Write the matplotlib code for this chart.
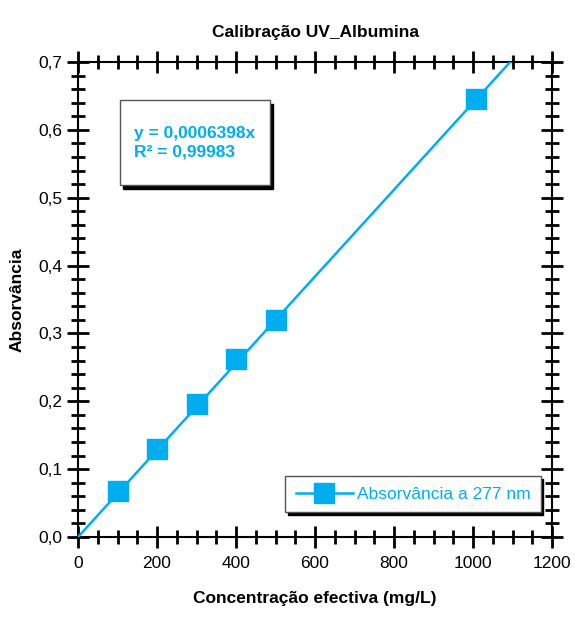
import numpy as np
import matplotlib
matplotlib.use("Agg")
import matplotlib.pyplot as plt
from matplotlib.patches import Rectangle
from matplotlib.ticker import MultipleLocator, FuncFormatter

plt.rcParams['font.family'] = ['Liberation Sans', 'DejaVu Sans']

# dados de calibração
conc = [100, 200, 300, 400, 500, 1008]
absorv = [0.068, 0.129, 0.196, 0.262, 0.320, 0.646]
slope = 0.0006398
r2 = 0.99983
blue = '#00AEEF'

fig = plt.figure(figsize=(5.75, 6.17), dpi=100)
ax = fig.add_axes([0.1357, 0.1297, 0.8243, 0.7698])

# linha de tendência até o topo do gráfico
x_fit = np.array([0, 0.7 / slope])
ax.plot(x_fit, slope * x_fit, color=blue, lw=1.8, zorder=3)
ax.plot(conc, absorv, 's', color=blue, ms=14, zorder=4)
# legenda mostra linha + marcador
handle = plt.Line2D([], [], color=blue, lw=1.8, marker='s', ms=14)

ax.set_xlim(0, 1200)
ax.set_ylim(0, 0.7)
ax.xaxis.set_major_locator(MultipleLocator(200))
ax.xaxis.set_minor_locator(MultipleLocator(50))
ax.yaxis.set_major_locator(MultipleLocator(0.1))
ax.yaxis.set_minor_locator(MultipleLocator(0.02))
ax.yaxis.set_major_formatter(FuncFormatter(lambda v, p: f'{v:.1f}'.replace('.', ',')))

ax.tick_params(which='both', direction='inout', top=True, right=True,
               width=2, labelsize=12.5)
ax.tick_params(axis='x', pad=6)
ax.tick_params(axis='y', pad=3)
ax.tick_params(which='major', length=16)
ax.tick_params(which='minor', length=10)
for s in ax.spines.values():
    s.set_linewidth(1.5)

ax.set_title('Calibração UV_Albumina', fontsize=12.5, fontweight='bold', pad=18)
ax.set_xlabel('Concentração efectiva (mg/L)', fontsize=12.5, fontweight='bold', labelpad=14)
ax.set_ylabel('Absorvância', fontsize=12.5, fontweight='bold', labelpad=10)

# caixa com a equação
ax.add_patch(Rectangle((0.095, 0.733), 0.317, 0.179, transform=ax.transAxes,
                       facecolor='black', edgecolor='black', lw=1, zorder=5))
ax.add_patch(Rectangle((0.0886, 0.741), 0.317, 0.179, transform=ax.transAxes,
                       facecolor='white', edgecolor='#555555', lw=1, zorder=6))
ax.text(0.118, 0.865, 'y = 0,0006398x\nR² = ' + f'{r2:.5f}'.replace('.', ','),
        transform=ax.transAxes, color=blue, fontsize=12.5, fontweight='bold',
        va='top', ha='left', linespacing=1.3, zorder=7)

leg = ax.legend([handle], ['Absorvância a 277 nm'], loc='lower right',
                bbox_to_anchor=(0.976, 0.052), fontsize=12.5, frameon=True,
                fancybox=False, shadow={'color': 'black', 'alpha': 1},
                handlelength=3.3, handletextpad=0.2, borderpad=0.6,
                borderaxespad=0, labelcolor=blue)
leg.get_frame().set_edgecolor('#555555')
leg.get_frame().set_linewidth(1)
leg.set_zorder(8)

fig.savefig('out.png', dpi=100)
